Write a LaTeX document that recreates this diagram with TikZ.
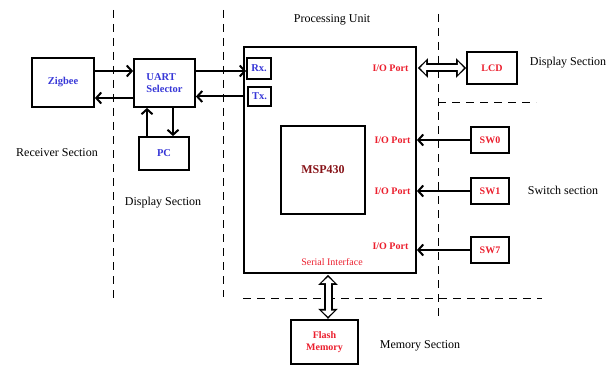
\documentclass[tikz,border=0pt]{standalone}
\usepackage{fontspec}
\setmainfont{Liberation Serif}
\usetikzlibrary{arrows.meta}
\definecolor{lblue}{RGB}{55,55,215}
\definecolor{lred}{RGB}{235,30,45}
\definecolor{dred}{RGB}{135,20,25}
\begin{document}
\begin{tikzpicture}[x=1pt,y=-1pt,
  blk/.style={draw, line width=1.8pt, inner sep=0pt},
  bluet/.style={text=lblue, font=\bfseries\fontsize{10.5}{12}\selectfont},
  redt/.style={text=lred, font=\bfseries\fontsize{10}{12}\selectfont},
  sect/.style={font=\fontsize{12}{14}\selectfont},
  arr/.style={line width=2pt, -{Straight Barb[length=5pt,width=11pt]}},
  dblout/.style={line width=9pt, {Triangle[length=10pt,width=19pt]}-{Triangle[length=10pt,width=19pt]}},
  dblin/.style={white, line width=5pt, shorten <=2.2pt, shorten >=2.2pt, {Triangle[length=6pt,width=12.5pt]}-{Triangle[length=6pt,width=12.5pt]}},
  sep/.style={line width=0.8pt, dash pattern=on 8pt off 6pt}]
\useasboundingbox (0,0) rectangle (615,385);
\draw[sep] (113,10) -- (113,303);
\draw[sep] (223,10) -- (223,297);
\draw[sep] (438,14) -- (438,320);
\draw[sep] (438,102) -- (536,102);
\draw[sep] (243,298) -- (542,298);
\node[blk, minimum width=62, minimum height=49, bluet] (zigbee) at (63,82.5) {Zigbee};
\node[blk, minimum width=61, minimum height=48, bluet, align=left] (uart) at (164.5,83) {UART\\Selector};
\node[blk, minimum width=50, minimum height=33, bluet] (pc) at (164,153.5) {PC};
\node[blk, minimum width=172, minimum height=226] (pu) at (330,160) {};
\node[blk, minimum width=24, minimum height=21, bluet] (rx) at (259,68.5) {Rx.};
\node[blk, minimum width=23, minimum height=19, bluet] (tx) at (259.5,96.5) {Tx.};
\node[blk, minimum width=84, minimum height=88, text=dred, font=\bfseries\fontsize{12}{14}\selectfont] (msp) at (323,170) {MSP430};
\node[blk, minimum width=50, minimum height=32, redt] (lcd) at (492,68) {LCD};
\node[blk, minimum width=38, minimum height=26, redt] (sw0) at (490,140) {SW0};
\node[blk, minimum width=38, minimum height=26, redt] (sw1) at (490,191) {SW1};
\node[blk, minimum width=38, minimum height=26, redt] (sw7) at (490,250) {SW7};
\node[blk, line width=2.4pt, minimum width=67, minimum height=44, redt, align=center] (flash) at (324.5,342) {Flash\\Memory};
\node[redt, anchor=east] (iolcd) at ([xshift=-5pt]pu.east |- lcd.west) {I/O Port};
\node[redt, anchor=east] (io0) at ([xshift=-3pt]pu.east |- sw0.west) {I/O Port};
\node[redt, anchor=east] (io1) at ([xshift=-3pt]pu.east |- sw1.west) {I/O Port};
\node[redt, anchor=east] (io7) at ([xshift=-5pt,yshift=4pt]pu.east |- sw7.west) {I/O Port};
\node[text=lred, font=\fontsize{10}{12}\selectfont] (serial) at (332,262) {Serial Interface};
\node[sect] (punit) at (332,20) {Processing Unit};
\node[sect] (recv) at (57,153) {Receiver Section};
\node[sect] (displ) at (163,203) {Display Section};
\node[sect] (dispr) at (568,63) {Display Section};
\node[sect] (swsec) at (563,190) {Switch section};
\node[sect] (memsec) at (420,346) {Memory Section};
\draw[arr] ([yshift=11.5pt]zigbee.east) -- ([yshift=11.5pt]zigbee.east -| uart.west);
\draw[arr] ([yshift=-15.5pt]zigbee.east -| uart.west) -- ([yshift=-15.5pt]zigbee.east);
\draw[arr] ([yshift=12pt]uart.east) -- ([yshift=12pt]uart.east -| rx.west);
\draw[arr] (tx.west -| pu.west) -- (tx.west -| uart.east);
\draw[arr] ([xshift=-17pt]pc.north) -- ([xshift=-17pt]pc.north |- uart.south);
\draw[arr] ([xshift=9pt]pc.north |- uart.south) -- ([xshift=9pt]pc.north);
\draw[arr] (sw0.west) -- (sw0.west -| pu.east);
\draw[arr] (sw1.west) -- (sw1.west -| pu.east);
\draw[arr] (sw7.west) -- (sw7.west -| pu.east);
\draw[dblout] ([xshift=1pt]lcd.west -| pu.east) -- (lcd.west);
\draw[dblin] ([xshift=1pt]lcd.west -| pu.east) -- (lcd.west);
\draw[dblout] ([xshift=3.5pt,yshift=-1pt]flash.north |- pu.south) -- ([xshift=3.5pt]flash.north);
\draw[dblin] ([xshift=3.5pt,yshift=-1pt]flash.north |- pu.south) -- ([xshift=3.5pt]flash.north);
\end{tikzpicture}
\end{document}
